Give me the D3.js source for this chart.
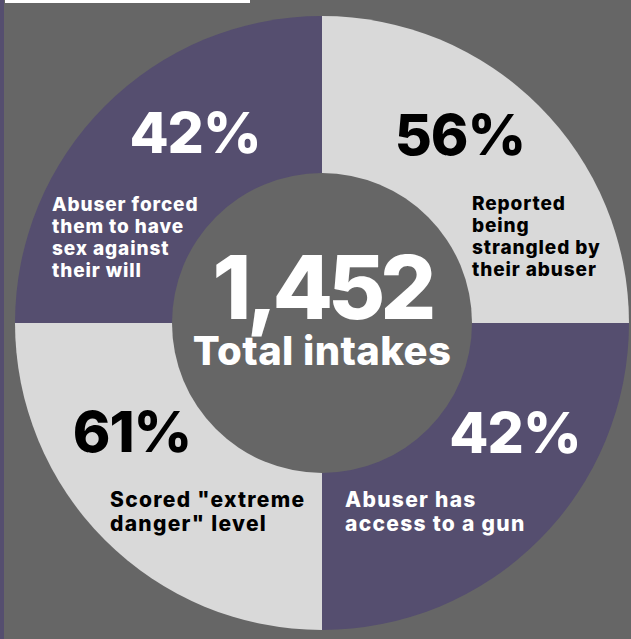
<!DOCTYPE html>
<html>
<head>
<meta charset="utf-8">
<title>Total intakes</title>
<script src="https://d3js.org/d3.v7.min.js"></script>
<style>
  html, body { margin: 0; padding: 0; background: #666666; }
  svg { display: block; }
  text { font-family: "Inter", "Lato", "DejaVu Sans", sans-serif; }
  .pct { font-weight: 800; font-size: 57px; letter-spacing: -1px; }
  .lbl { font-weight: 800; font-size: 19px; letter-spacing: 0.9px; }
  .lbl.low { font-size: 21px; letter-spacing: 1.3px; }
  .big { font-weight: 800; font-size: 88px; fill: #fff; letter-spacing: -5px; }
  .sub { font-weight: 800; font-size: 40px; fill: #fff; letter-spacing: 0.4px; }
</style>
</head>
<body>
<div id="chart"></div>
<script>
// quadrants, clockwise from top-left
const quadrants = ['top-left', 'top-right', 'bottom-right', 'bottom-left'];
const percents = [42, 56, 42, 61];
const labels = [
  ['Abuser forced', 'them to have', 'sex against', 'their will'],
  ['Reported', 'being', 'strangled by', 'their abuser'],
  ['Abuser has', 'access to a gun'],
  ['Scored "extreme', 'danger" level']
];
const total = 1452;
const totalLabel = 'Total intakes';

const width = 631, height = 639;
const cx = 322, cy = 323;
const outerR = 307, innerR = 150;
const purple = '#554e6f', light = '#d9d9d9', bg = '#666666';
const fills = ['purple', 'light', 'purple', 'light'];

// per-quadrant text placement (relative to centre)
const pctPos = [[-127, -170], [138, -168], [193, 130], [-190, 129]];
const lblPos = [[-270, -112], [150, -113], [23, 184], [-212, 184]];
const lineGap = [22, 22, 24, 24];

const svg = d3.select('#chart').append('svg')
  .attr('width', width)
  .attr('height', height);

svg.append('rect').attr('width', width).attr('height', height).attr('fill', bg);
// thin edge strips seen in the original
svg.append('rect').attr('x', 0).attr('y', 0).attr('width', 4).attr('height', height).attr('fill', purple);
svg.append('rect').attr('x', 5).attr('y', 0).attr('width', 245).attr('height', 3).attr('fill', '#ffffff');

const g = svg.append('g').attr('transform', `translate(${cx},${cy})`);

const pie = d3.pie().value(() => 1).sort(null)
  .startAngle(-Math.PI / 2).endAngle(Math.PI * 1.5);
const arc = d3.arc().innerRadius(0).outerRadius(outerR);

const data = quadrants.map((q, i) => ({ q, pct: percents[i], lines: labels[i], fill: fills[i] }));

g.selectAll('path.slice')
  .data(pie(data))
  .join('path')
  .attr('class', 'slice')
  .attr('d', arc)
  .attr('fill', d => d.data.fill === 'purple' ? purple : light);

g.append('circle').attr('r', innerR).attr('fill', bg);

const textColor = d => d.fill === 'purple' ? '#ffffff' : '#000000';

g.selectAll('text.pct')
  .data(data)
  .join('text')
  .attr('class', 'pct')
  .attr('x', (d, i) => pctPos[i][0])
  .attr('y', (d, i) => pctPos[i][1])
  .attr('text-anchor', 'middle')
  .attr('fill', textColor)
  .text(d => d.pct + '%');

g.selectAll('text.lbl')
  .data(data)
  .join('text')
  .attr('class', d => d.q.startsWith('bottom') ? 'lbl low' : 'lbl')
  .attr('x', (d, i) => lblPos[i][0])
  .attr('y', (d, i) => lblPos[i][1])
  .attr('fill', textColor)
  .selectAll('tspan')
  .data((d, i) => d.lines.map(l => ({ l, x: lblPos[i][0], gap: lineGap[i] })))
  .join('tspan')
  .attr('x', d => d.x)
  .attr('dy', (d, j) => j === 0 ? 0 : d.gap)
  .text(d => d.l);

g.append('text')
  .attr('class', 'big')
  .attr('y', -4)
  .attr('text-anchor', 'middle')
  .text(d3.format(',')(total));

g.append('text')
  .attr('class', 'sub')
  .attr('y', 42)
  .attr('text-anchor', 'middle')
  .text(totalLabel);
</script>
</body>
</html>
